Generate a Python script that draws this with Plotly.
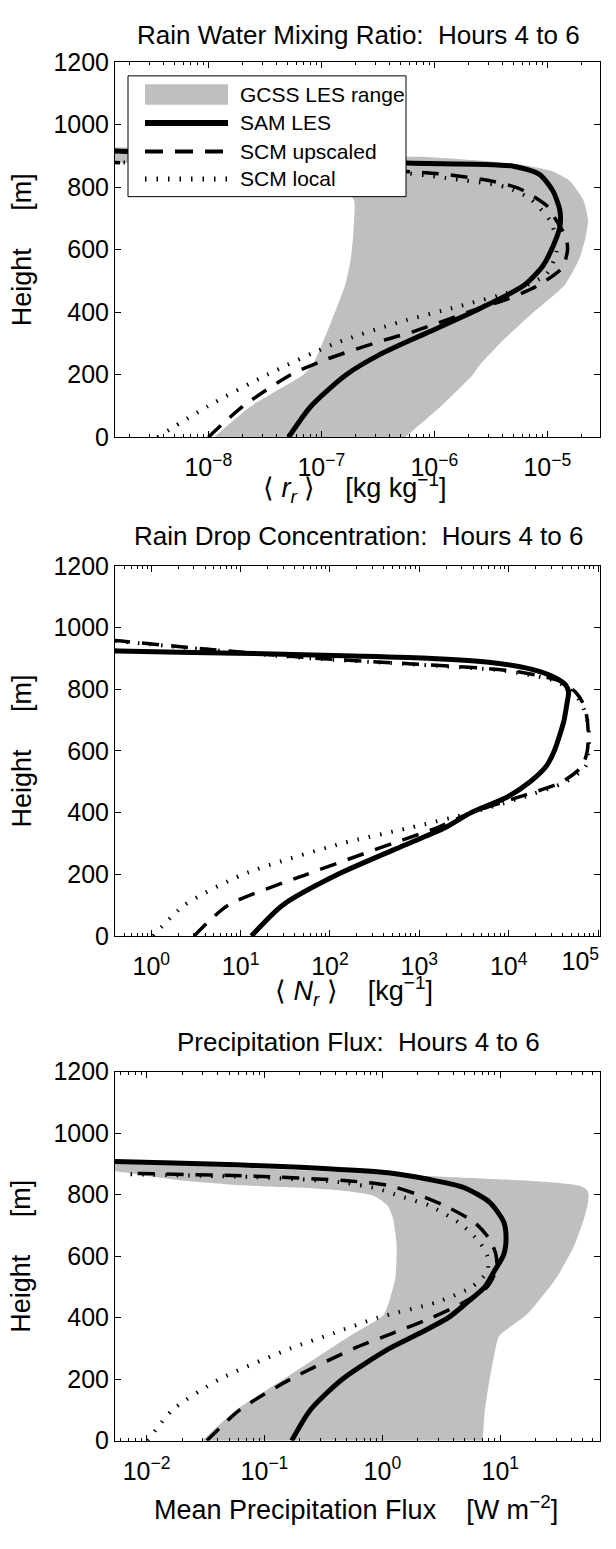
import plotly.graph_objects as go

W, H = 616, 1549

# ---------------- data (heights in m) ----------------
# Panel 1: rain water mixing ratio <r_r> [kg kg^-1]
rr_gcss_h = [0, 100, 200, 230, 300, 391, 485, 569, 642, 694, 757, 820, 850, 870, 885, 895, 905, 920, 930]
rr_gcss_min = [1.12e-8, 2.40e-8, 6.92e-8, 8.32e-8, 1.02e-7, 1.29e-7, 1.62e-7, 1.82e-7, 1.91e-7, 1.95e-7,
               1.95e-7, 1.41e-7, 5.01e-8, 6.31e-9, 5.01e-10, 3.16e-10, 1e-10, 3.16e-11, 1e-11]
rr_gcss_max = [5.50e-7, 1.15e-6, 2.19e-6, 2.51e-6, 3.80e-6, 7.08e-6, 1.41e-5, 1.91e-5, 2.19e-5, 2.29e-5,
               2.09e-5, 1.58e-5, 1.12e-5, 6.31e-6, 2.51e-6, 1.0e-6, 1.0e-7, 1.0e-8, 6.31e-10]
rr_sam_h = [0, 100, 200, 265, 338, 411, 485, 548, 610, 673, 726, 788, 841, 867, 877, 890, 903, 918]
rr_sam = [5.13e-8, 8.13e-8, 1.66e-7, 3.31e-7, 9.12e-7, 2.51e-6, 6.17e-6, 9.12e-6, 1.12e-5, 1.29e-5,
          1.29e-5, 1.12e-5, 8.51e-6, 5.01e-6, 5.75e-7, 1.0e-7, 1.0e-8, 1.0e-9]
rr_up_h = [0, 100, 200, 250, 312, 341, 409, 441, 482, 542, 600, 642, 700, 736, 794, 820, 836, 846, 858, 868, 876, 882]
rr_up = [1.0e-8, 2.04e-8, 5.37e-8, 1.12e-7, 3.72e-7, 6.92e-7, 2.34e-6, 4.37e-6, 7.94e-6, 1.35e-5, 1.51e-5,
         1.45e-5, 1.17e-5, 1.02e-5, 5.75e-6, 3.16e-6, 1.62e-6, 8.51e-7, 2.0e-7, 3.16e-8, 3.16e-9, 6.31e-10]
rr_loc_h = [0, 100, 200, 300, 369, 417, 469, 521, 590, 650, 694, 762, 799, 830, 850, 865, 875, 882]
rr_loc = [3.55e-9, 1.0e-8, 3.31e-8, 1.32e-7, 5.01e-7, 1.58e-6, 5.01e-6, 9.77e-6, 1.20e-5, 1.17e-5,
          1.05e-5, 7.08e-6, 4.37e-6, 1.23e-6, 3.98e-7, 6.31e-8, 6.31e-9, 6.31e-10]

# Panel 2: rain drop concentration <N_r> [kg^-1]
nr_sam_h = [0, 100, 200, 300, 350, 400, 450, 500, 550, 600, 650, 700, 750, 790, 813, 839, 866, 887, 900, 908, 917, 924, 932]
nr_sam = [13.2, 29.5, 123, 759, 1905, 3802, 9550, 17380, 26300, 32360, 37150, 41690, 44670, 46770,
          43650, 32360, 17380, 6310, 1380, 182, 8.91, 0.427, 0.1]
nr_up_h = [0, 100, 200, 300, 350, 400, 450, 500, 550, 600, 650, 700, 750, 790, 827, 860, 882, 901, 933, 956, 970]
nr_up = [3.02, 7.24, 55.0, 501, 1549, 3802, 12880, 39810, 66070, 75860, 77620, 75860, 69180, 56230,
         37150, 10470, 832, 66.1, 3.24, 0.468, 0.158]
nr_loc_h = [0, 100, 200, 300, 350, 400, 450, 500, 550, 600, 650, 700, 750, 790, 827, 860, 882, 901, 933, 956, 970]
nr_loc = [1.05, 2.34, 10.7, 135, 759, 3802, 14450, 43650, 72440, 77620, 79430, 75860, 66070, 52480,
          33110, 8910, 708, 56.2, 2.82, 0.417, 0.141]

# Panel 3: mean precipitation flux [W m^-2]
pf_gcss_h = [0, 100, 200, 300, 340, 409, 457, 531, 637, 722, 765, 797, 812, 820, 830, 838, 846, 858, 870, 881, 895, 913, 925]
pf_gcss_min = [0.0295, 0.0575, 0.145, 0.363, 0.525, 1.02, 1.15, 1.29, 1.32, 1.23, 1.10, 0.832, 0.490,
               0.263, 0.0631, 0.0355, 0.0200, 0.0112, 0.00708, 0.00398, 0.00126, 0.000316, 0.0001]
pf_gcss_max = [7.08, 7.41, 8.13, 9.12, 9.77, 16.6, 21.4, 30.2, 42.7, 51.3, 55.0, 56.2, 55.0, 52.5,
               45.7, 31.6, 15.8, 3.16, 0.794, 0.158, 0.0251, 0.00537, 0.001]
pf_sam_h = [0, 100, 200, 300, 350, 400, 450, 500, 552, 605, 658, 711, 775, 823, 849, 871, 885, 892, 897, 908, 915]
pf_sam = [0.170, 0.245, 0.457, 1.15, 2.09, 3.63, 5.25, 7.41, 8.91, 10.7, 11.2, 10.7, 8.13, 4.90, 2.51,
          1.12, 0.316, 0.123, 0.0575, 0.00537, 0.00126]
pf_up_h = [0, 100, 200, 300, 350, 400, 450, 500, 560, 610, 660, 710, 760, 800, 830, 845, 860, 869]
pf_up = [0.0324, 0.0617, 0.166, 0.575, 1.23, 2.63, 4.90, 7.76, 9.33, 9.12, 7.94, 6.03, 3.55, 2.0,
         1.12, 0.501, 0.0832, 0.00724]
pf_loc_h = [0, 100, 200, 300, 350, 400, 450, 500, 550, 600, 647, 706, 764, 795, 820, 840, 857, 866]
pf_loc = [0.0102, 0.0166, 0.0417, 0.166, 0.389, 0.912, 2.88, 5.75, 7.76, 7.76, 6.61, 4.57, 2.51, 1.41,
          0.891, 0.447, 0.0794, 0.00724]

# tick labels
rr_ticks = [1e-8, 1e-7, 1e-6, 1e-5]
rr_ticktext = ["10<sup>\u22128</sup>", "10<sup>\u22127</sup>", "10<sup>\u22126</sup>", "10<sup>\u22125</sup>"]
nr_ticks = [1, 10, 100, 1e3, 1e4, 1e5]
nr_ticktext = ["10<sup>0</sup>", "10<sup>1</sup>", "10<sup>2</sup>", "10<sup>3</sup>", "10<sup>4</sup>", "10<sup>5</sup>"]
pf_ticks = [1e-2, 1e-1, 1, 10]
pf_ticktext = ["10<sup>\u22122</sup>", "10<sup>\u22121</sup>", "10<sup>0</sup>", "10<sup>1</sup>"]
height_ticks = [0, 200, 400, 600, 800, 1000, 1200]

series_names = ["GCSS LES range", "SAM LES", "SCM upscaled", "SCM local"]
titles = ["Rain Water Mixing Ratio:\u00a0 Hours 4 to 6",
          "Rain Drop Concentration:\u00a0 Hours 4 to 6",
          "Precipitation Flux:\u00a0 Hours 4 to 6"]
xlabels = ["\u27e8 <i>r</i><sub><i>r</i></sub> \u27e9\u00a0\u00a0\u00a0 [kg kg<sup>\u22121</sup>]",
           "\u27e8 <i>N</i><sub><i>r</i></sub> \u27e9\u00a0\u00a0\u00a0 [kg<sup>\u22121</sup>]",
           "Mean Precipitation Flux\u00a0\u00a0\u00a0 [W m<sup>\u22122</sup>]"]
ylabel = "Height\u00a0\u00a0\u00a0\u00a0 [m]"

# ---------------- styling ----------------
FONT = "Liberation Sans, Arial, Helvetica, sans-serif"
GRAY = "rgb(191,191,191)"
sam_style = dict(color="black", width=5, shape="spline", smoothing=0.7)
up_style = dict(color="black", width=3.5, dash="17px,12px", shape="spline", smoothing=0.7)
loc_style = dict(color="black", width=4, dash="1.5px,10px", shape="spline", smoothing=0.7)
TICK_FS = 25
TITLE_FS = 26
LAB_FS = 27
LEG_FS = 21

fig = go.Figure()


def add_panel(idx, gcss, sam, up, loc):
    xa = "x" if idx == 1 else f"x{idx}"
    ya = "y" if idx == 1 else f"y{idx}"
    if gcss is not None:
        gh, gmin, gmax = gcss
        fig.add_trace(go.Scatter(x=list(gmin) + list(gmax)[::-1], y=list(gh) + list(gh)[::-1],
                                 fill="toself", fillcolor=GRAY, mode="lines",
                                 line=dict(width=0, color=GRAY, shape="spline", smoothing=0.6),
                                 name=series_names[0], hoverinfo="skip", xaxis=xa, yaxis=ya))
    fig.add_trace(go.Scatter(x=sam[1], y=sam[0], mode="lines", line=sam_style, name=series_names[1],
                             xaxis=xa, yaxis=ya))
    fig.add_trace(go.Scatter(x=up[1], y=up[0], mode="lines", line=up_style, name=series_names[2],
                             xaxis=xa, yaxis=ya))
    fig.add_trace(go.Scatter(x=loc[1], y=loc[0], mode="lines", line=loc_style, name=series_names[3],
                             xaxis=xa, yaxis=ya))


add_panel(1, (rr_gcss_h, rr_gcss_min, rr_gcss_max), (rr_sam_h, rr_sam), (rr_up_h, rr_up), (rr_loc_h, rr_loc))
add_panel(2, None, (nr_sam_h, nr_sam), (nr_up_h, nr_up), (nr_loc_h, nr_loc))
add_panel(3, (pf_gcss_h, pf_gcss_min, pf_gcss_max), (pf_sam_h, pf_sam), (pf_up_h, pf_up), (pf_loc_h, pf_loc))
# empty helper trace so the overlay axis that carries the right-edge 10^5 label is drawn
fig.add_trace(go.Scatter(x=[None], y=[None], mode="lines", xaxis="x4", yaxis="y2", hoverinfo="skip"))


def minor_vals(d0, d1):
    return [m * 10.0 ** d for d in range(d0, d1) for m in range(2, 10)]


def px(x):
    return x / W


def py(y):
    return 1 - y / H


# pixel geometry of plot boxes
X0, X1 = 115, 600
panels_px = [(49, 431), (562, 939), (1077, 1453)]
xranges = [[-8.826, -4.534], [-0.406, 5.022], [-2.268, 1.846]]
xticks = [(rr_ticks, rr_ticktext, minor_vals(-9, -4)),
          (nr_ticks, nr_ticktext[:-1] + [""], minor_vals(-1, 5)),
          (pf_ticks, pf_ticktext, minor_vals(-3, 2))]

layout = dict(
    width=W, height=H, margin=dict(l=0, r=0, t=0, b=0),
    paper_bgcolor="white", plot_bgcolor="white",
    font=dict(family=FONT, color="black", size=TICK_FS),
    showlegend=False,
)

for i, ((top, bot), xr, (tv, tt, mv)) in enumerate(zip(panels_px, xranges, xticks)):
    n = "" if i == 0 else str(i + 1)
    layout["xaxis" + n] = dict(
        type="log", range=xr, domain=[px(X0), px(X1)], anchor="y" + n,
        showline=True, linecolor="black", linewidth=1, mirror="ticks",
        ticks="inside", ticklen=6, tickwidth=1, tickcolor="black",
        tickmode="array", tickvals=tv, ticktext=tt, ticklabelstandoff=8,
        tickfont=dict(family=FONT, size=TICK_FS, color="black"),
        minor=dict(ticks="inside", ticklen=3, tickwidth=1, tickcolor="black",
                   tickmode="array", tickvals=mv, showgrid=False),
        showgrid=False, zeroline=False, fixedrange=True,
    )
    layout["yaxis" + n] = dict(
        range=[0, 1200], domain=[py(bot), py(top)], anchor="x" + n,
        showline=True, linecolor="black", linewidth=1, mirror="ticks",
        ticks="inside", ticklen=6, tickwidth=1, tickcolor="black",
        tickmode="array", tickvals=height_ticks, ticktext=[str(v) for v in height_ticks],
        tickfont=dict(family=FONT, size=TICK_FS, color="black"),
        showgrid=False, zeroline=False, fixedrange=True,
    )

# last label of the middle panel sits at the right edge: drawn left of its tick so it stays in the figure
layout["xaxis4"] = dict(
    type="log", range=xranges[1], domain=[px(X0), px(X1)], anchor="y2", overlaying="x2", side="bottom",
    showline=False, ticks="", tickmode="array", tickvals=[nr_ticks[-1]], ticktext=[nr_ticktext[-1]],
    ticklabelstandoff=8, ticklabelposition="outside left", ticklabelshift=1,
    tickfont=dict(family=FONT, size=TICK_FS, color="black"),
    showgrid=False, zeroline=False, fixedrange=True,
)

annotations = []
title_y = [21, 532, 1047]
xlabel_y = [483, 995, 1522]
xlabel_x = [354, 354, 356]
for i in range(3):
    top, bot = panels_px[i]
    annotations.append(dict(text=titles[i], x=px(358), y=py(title_y[i]), xref="paper", yref="paper",
                            xanchor="center", yanchor="middle", showarrow=False,
                            font=dict(family=FONT, size=TITLE_FS, color="black")))
    annotations.append(dict(text=xlabels[i], x=px(xlabel_x[i]), y=py(xlabel_y[i]), xref="paper",
                            yref="paper", xanchor="center", yanchor="middle", showarrow=False,
                            font=dict(family=FONT, size=LAB_FS, color="black")))
    annotations.append(dict(text=ylabel, x=px(21.6), y=py((top + bot) / 2), xref="paper", yref="paper",
                            xanchor="center", yanchor="middle", textangle=-90, showarrow=False,
                            font=dict(family=FONT, size=LAB_FS, color="black")))

# ---------------- legend (top panel, drawn as a boxed key) ----------------
LG_X0, LG_X1, LG_Y0, LG_Y1 = 128, 406, 63, 186
row_y = [82, 111, 140, 168]
sx0, sx1, tx = 145, 228, 238
shapes = [dict(type="rect", xref="paper", yref="paper", x0=px(LG_X0), x1=px(LG_X1), y0=py(LG_Y1), y1=py(LG_Y0),
               fillcolor="white", line=dict(color="black", width=1), layer="above"),
          dict(type="rect", xref="paper", yref="paper", x0=px(sx0), x1=px(sx1), y0=py(row_y[0] + 10.5),
               y1=py(row_y[0] - 10.5), fillcolor=GRAY, line=dict(width=0), layer="above")]
for ry, st in zip(row_y[1:], [dict(color="black", width=6),
                              dict(color="black", width=4, dash="18px,12px"),
                              dict(color="black", width=5, dash="1.5px,10px")]):
    shapes.append(dict(type="line", xref="paper", yref="paper", x0=px(sx0), x1=px(sx1), y0=py(ry), y1=py(ry),
                       line=st, layer="above"))
for ry, name in zip(row_y, series_names):
    annotations.append(dict(text=name, x=px(tx), y=py(ry), xref="paper", yref="paper", xanchor="left",
                            yanchor="middle", showarrow=False,
                            font=dict(family=FONT, size=LEG_FS, color="black")))

layout["annotations"] = annotations
layout["shapes"] = shapes

fig.update_layout(**layout)
fig.write_html("out.html", config={"displayModeBar": False},
               post_script="document.body.style.margin='0px';")
